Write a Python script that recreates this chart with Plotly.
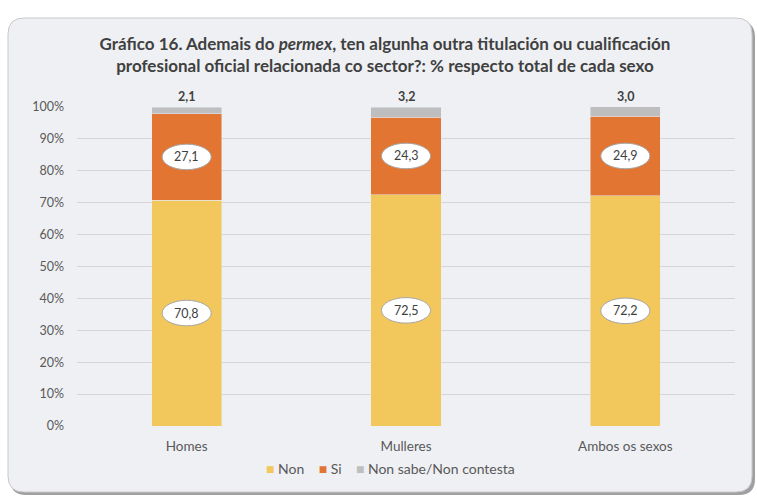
import plotly.graph_objects as go

categories = ["Homes", "Mulleres", "Ambos os sexos"]
non_vals = [70.8, 72.5, 72.2]
si_vals = [27.1, 24.3, 24.9]
ns_vals = [2.1, 3.2, 3.0]
series_names = ["Non", "Si", "Non sabe/Non contesta"]
y_ticks = [0, 10, 20, 30, 40, 50, 60, 70, 80, 90, 100]
y_ticklabels = [f"{v}%" for v in y_ticks]

def fmt(v):
    return f"{v:.1f}".replace(".", ",")

W, H = 757, 498
# plot area in page coordinates: x 77..735, y 107..426
L, R, T, B = 77, W - 735, 107, H - 426
PW, PH = W - L - R, H - T - B

def px(x):
    return (x - L) / PW

def py(y):
    return (H - B - y) / PH

def rrect(x0, y0, x1, y1, r):
    X0, X1 = px(x0), px(x1)
    Y0, Y1 = py(y0), py(y1)
    rx, ry = r / PW, r / PH
    return (f"M {X0+rx},{Y0} L {X1-rx},{Y0} Q {X1},{Y0} {X1},{Y0-ry} "
            f"L {X1},{Y1+ry} Q {X1},{Y1} {X1-rx},{Y1} L {X0+rx},{Y1} "
            f"Q {X0},{Y1} {X0},{Y1+ry} L {X0},{Y0-ry} Q {X0},{Y0} {X0+rx},{Y0} Z")

C_NON = "#F2C75C"
C_SI = "#E37532"
C_NS = "#BEBEBE"
colors = [C_NON, C_SI, C_NS]
TXT = "#404040"
FONT = "Lato"

fig = go.Figure()
xs = list(range(len(categories)))
for name, vals, col in zip(series_names, [non_vals, si_vals, ns_vals], colors):
    fig.add_trace(go.Bar(x=xs, y=vals, name=name, marker_color=col, width=0.32))

shapes = [
    dict(type="path", xref="paper", yref="paper", path=rrect(10, 21, 755, 495, 16),
         fillcolor="#A0A0A0", line=dict(width=0), layer="below"),
    dict(type="path", xref="paper", yref="paper", path=rrect(8, 18, 752, 492, 16),
         fillcolor="#EFF0F4", line=dict(color="#C9C9CB", width=1), layer="below"),
]
annotations = []
for i in xs:
    for center, val in [(non_vals[i] / 2, non_vals[i]),
                        (non_vals[i] + si_vals[i] / 2, si_vals[i])]:
        shapes.append(dict(type="circle", xref="x", yref="y",
                           x0=i - 0.112, x1=i + 0.112, y0=center - 4.0, y1=center + 4.0,
                           fillcolor="white", line=dict(color="#A6A6A6", width=1)))
        annotations.append(dict(x=i, y=center, text=fmt(val), showarrow=False,
                                font=dict(family=FONT, size=12.5, color=TXT)))
    annotations.append(dict(x=i, y=100, text=f"<b>{fmt(ns_vals[i])}</b>", showarrow=False,
                            yanchor="bottom", yshift=1,
                            font=dict(family=FONT, size=12.5, color=TXT)))

# legend drawn as a single line of text with coloured squares
leg_parts = [f"<span style='color:{c}'>■</span> {n}" for n, c in zip(series_names, colors)]
annotations.append(dict(
    xref="paper", yref="paper", x=px(390), y=py(468), xanchor="center", yanchor="middle",
    text="    ".join(leg_parts), showarrow=False,
    font=dict(family=FONT, size=14, color="#595959"),
))

fig.update_layout(
    width=W, height=H,
    margin=dict(l=L, r=R, t=T, b=B),
    barmode="stack",
    paper_bgcolor="white",
    plot_bgcolor="rgba(0,0,0,0)",
    font=dict(family=FONT, color="#595959", size=12),
    title=dict(
        text="<b>Gráfico 16. Ademais do <i>permex</i>, ten algunha outra titulación ou cualificación<br>"
             "profesional oficial relacionada co sector?: % respecto total de cada sexo</b>",
        x=px(385), xref="paper", xanchor="center",
        y=1 - 50 / H, yref="container", yanchor="middle",
        font=dict(family=FONT, size=17, color=TXT),
    ),
    xaxis=dict(
        tickvals=xs, ticktext=categories, range=[-0.5, 2.5],
        showgrid=False, zeroline=False, showline=False, ticks="",
        ticklabelstandoff=10,
        tickfont=dict(family=FONT, size=13.5, color="#595959"),
    ),
    yaxis=dict(
        range=[0, 100], tickvals=y_ticks, ticktext=y_ticklabels,
        showgrid=True, gridcolor="#D4D4D6", gridwidth=1, zeroline=False,
        ticks="", ticklabelstandoff=12,
        tickfont=dict(family=FONT, size=12.5, color="#595959"),
    ),
    shapes=shapes,
    annotations=annotations,
    showlegend=False,
)

fig.write_html("out.html", config={"displayModeBar": False},
               post_script="document.body.style.margin='0px';document.body.style.overflow='hidden';")
